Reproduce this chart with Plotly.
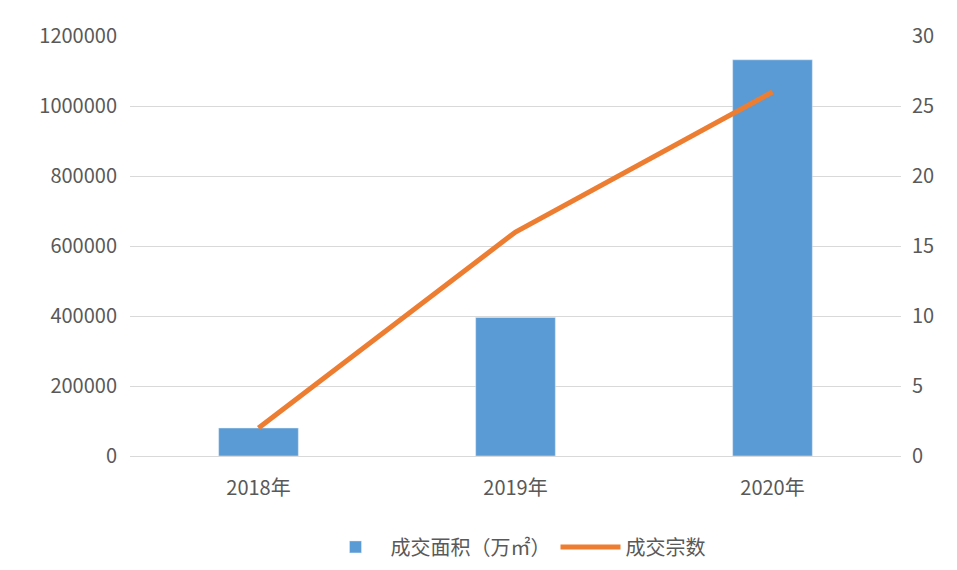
import plotly.graph_objects as go

# Data
years = ["2018年", "2019年", "2020年"]
area = [80000, 396000, 1132000]      # 成交面积（万㎡）
deals = [2, 16, 26]                  # 成交宗数

bar_color = "#5B9BD5"
line_color = "#ED7D31"
font = dict(family="Noto Sans CJK SC, Noto Sans, sans-serif", size=20, color="#595959")

fig = go.Figure()

fig.add_trace(go.Bar(
    x=years, y=area, name="成交面积（万㎡）",
    marker_color=bar_color, width=0.31,
))
fig.add_trace(go.Scatter(
    x=years, y=deals, name="成交宗数", yaxis="y2",
    mode="lines", line=dict(color=line_color, width=5),
))

fig.update_layout(
    width=957, height=570,
    margin=dict(l=122, r=64, t=19, b=110),
    plot_bgcolor="white", paper_bgcolor="white",
    font=font,
    showlegend=True,
    legend=dict(orientation="h", x=0.5, xanchor="center", y=-0.17, yanchor="top",
                font=font, itemwidth=60),
    xaxis=dict(showline=True, linecolor="#D9D9D9", ticks="", ticklabelstandoff=14),
    yaxis=dict(range=[0, 1200000], dtick=200000, gridcolor="#D9D9D9",
               zeroline=False, tickformat="d", ticklabelstandoff=12),
    yaxis2=dict(range=[0, 30], dtick=5, overlaying="y", side="right",
                showgrid=False, zeroline=False, ticklabelstandoff=10),
)

fig.write_html("out.html")
